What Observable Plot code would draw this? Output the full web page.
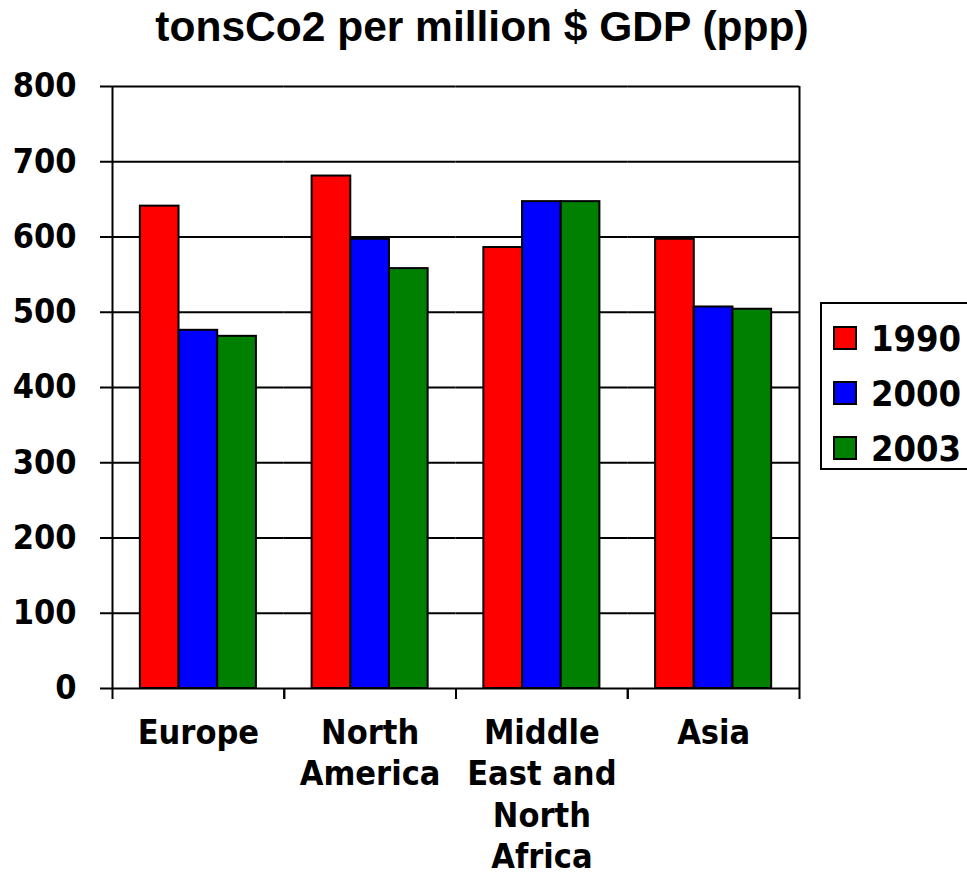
<!DOCTYPE html>
<html>
<head>
<meta charset="utf-8">
<script src="https://cdn.jsdelivr.net/npm/d3@7"></script>
<script src="https://cdn.jsdelivr.net/npm/@observablehq/plot@0.6"></script>
<style>
  html, body { margin: 0; padding: 0; background: #fff; }
  #wrap { position: relative; width: 967px; height: 880px; overflow: hidden; background: #fff; }
  #title { position: absolute; left: 0; width: 964px; top: 3px; text-align: center;
    font-family: "Liberation Sans", Arial, sans-serif; font-weight: bold; font-size: 42.5px; line-height: 48px; color: #000; }
  #chart { position: absolute; left: 0; top: 0; }
  #legend { position: absolute; left: 820px; top: 302px; width: 160px; height: 168px;
    border: 2px solid #000; background: #fff; box-sizing: border-box;
    font-family: "DejaVu Sans Condensed", "DejaVu Sans", sans-serif; font-stretch: condensed; font-weight: bold; font-size: 36px; color: #000; }
  .row { position: absolute; left: 11px; height: 40px; display: flex; align-items: center; }
  .sw { width: 20px; height: 20px; border: 2px solid #000; margin-right: 14px; }
</style>
</head>
<body>
<div id="wrap">
  <div id="chart"></div>
  <div id="title"></div>
  <div id="legend"></div>
</div>
<script>
const titleText = "tonsCo2 per million $ GDP (ppp)";
const categories = ["Europe", "North America", "Middle East and North Africa", "Asia"];
const categoryLabels = ["Europe", "North\nAmerica", "Middle\nEast and\nNorth\nAfrica", "Asia"];
const years = ["1990", "2000", "2003"];
const values1990 = [641, 681, 586, 597];
const values2000 = [476, 597, 647, 507];
const values2003 = [468, 558, 647, 504];
const yTicks = [0, 100, 200, 300, 400, 500, 600, 700, 800];
const colors = ["#FF0000", "#0000FF", "#008000"];

const series = [values1990, values2000, values2003];
const data = categories.flatMap((c, i) => years.map((y, j) => ({region: c, year: y, value: series[j][i]})));

document.getElementById("title").textContent = titleText;

const W = 820, H = 880, mL = 112, mR = 21, mT = 86, mB = 192;
const facetStep = (W - mL - mR) / categories.length;
const font = '"DejaVu Sans Condensed", "DejaVu Sans", sans-serif';

const chart = Plot.plot({
  width: W, height: H,
  marginLeft: mL, marginRight: mR, marginTop: mT, marginBottom: mB,
  style: {fontFamily: font, fontWeight: "bold", fontSize: "34px", color: "#000", background: "transparent", fontStretch: "condensed"},
  fx: {domain: categories, padding: 0, label: null, axis: null, round: false},
  x: {domain: years, paddingInner: 0, paddingOuter: 0.72, axis: null, round: false},
  y: {domain: [0, 800], label: null, axis: null},
  color: {domain: years, range: colors},
  marks: [
    Plot.ruleY(yTicks, {stroke: "#000", strokeWidth: 2}),
    Plot.barY(data, {fx: "region", x: "year", y: "value", fill: "year", stroke: "#000", strokeWidth: 2}),
    // left and right edges of the plotting frame
    Plot.ruleX([categories[0]], {fx: d => d, x: null, dx: -facetStep / 2, stroke: "#000", strokeWidth: 2}),
    Plot.ruleX([categories[categories.length - 1]], {fx: d => d, x: null, dx: facetStep / 2, stroke: "#000", strokeWidth: 2}),
    Plot.axisY(yTicks, {anchor: "left", tickSize: 12, tickPadding: 24, tickFormat: d => String(d), label: null, fontSize: 34, strokeWidth: 2}),
    Plot.axisFx({anchor: "bottom", tickSize: 0, tickPadding: 26, label: null, fontSize: 34, lineHeight: 1.22,
      tickFormat: d => categoryLabels[categories.indexOf(d)]}),
    Plot.axisFx({anchor: "bottom", tickSize: 11, text: null, label: null, strokeWidth: 2, dx: -facetStep / 2}),
    Plot.axisFx({anchor: "bottom", tickSize: 11, text: null, label: null, strokeWidth: 2, dx: facetStep / 2})
  ]
});
document.getElementById("chart").appendChild(chart);

const legend = document.getElementById("legend");
years.forEach((y, i) => {
  const row = document.createElement("div");
  row.className = "row";
  row.style.top = (14 + i * 55) + "px";
  const sw = document.createElement("div");
  sw.className = "sw";
  sw.style.background = colors[i];
  const t = document.createElement("span");
  t.textContent = y;
  row.appendChild(sw);
  row.appendChild(t);
  legend.appendChild(row);
});
</script>
</body>
</html>
